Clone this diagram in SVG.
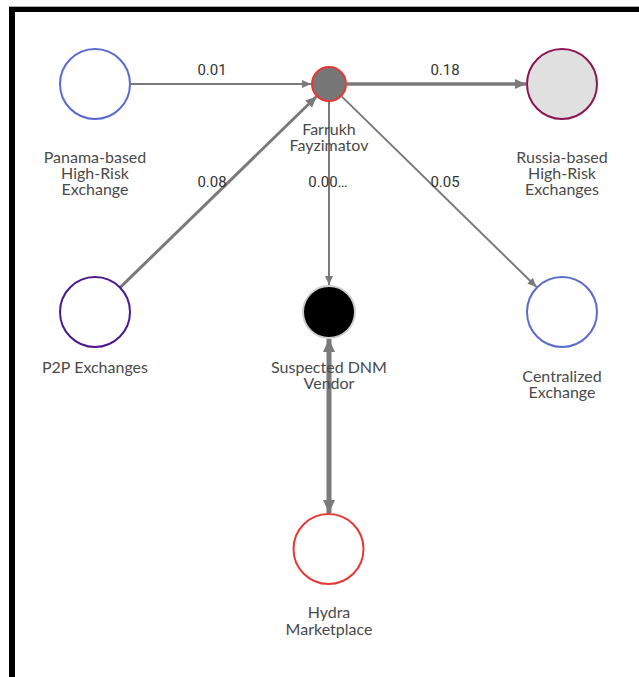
<svg xmlns="http://www.w3.org/2000/svg" width="639" height="677" viewBox="0 0 639 677">
<style>
.lbl{font-family:"Lato","Noto Sans",sans-serif;font-size:16px;fill:#4a4a4a;text-anchor:middle}
.elbl{font-family:"Roboto","Liberation Sans",sans-serif;font-size:15px;fill:#333;text-anchor:middle}
.edge{stroke:#7a7a7a;fill:none}
</style>
<defs>
<marker id="ahS" markerUnits="userSpaceOnUse" markerWidth="10" markerHeight="8" refX="9" refY="4" orient="auto"><path d="M0,0 L9,4 L0,8 Z" fill="#7a7a7a"/></marker>
<marker id="ahM" markerUnits="userSpaceOnUse" markerWidth="12" markerHeight="10" refX="11" refY="5" orient="auto"><path d="M0,0 L11,5 L0,10 Z" fill="#7a7a7a"/></marker>
<marker id="ahL" markerUnits="userSpaceOnUse" markerWidth="14" markerHeight="12" refX="13" refY="6" orient="auto-start-reverse"><path d="M0,0 L13,6 L0,12 Z" fill="#7a7a7a"/></marker>
</defs>
<rect x="0" y="0" width="639" height="677" fill="#fff"/>
<rect x="9" y="6" width="630" height="1" fill="#b0b0b0"/>
<rect x="9" y="7" width="630" height="5" fill="#000"/>
<rect x="9" y="7" width="6" height="670" fill="#000"/>
<g id="connectors">
<line class="edge" x1="131" y1="84" x2="311" y2="84" stroke-width="2" marker-end="url(#ahS)"/>
<line class="edge" x1="347" y1="84" x2="526" y2="84" stroke-width="3.5" marker-end="url(#ahM)"/>
<line class="edge" x1="120" y1="287.6" x2="316.5" y2="96.5" stroke-width="3" marker-end="url(#ahM)"/>
<line class="edge" x1="329" y1="102" x2="329" y2="285" stroke-width="2" marker-end="url(#ahS)"/>
<line class="edge" x1="341.9" y1="96.6" x2="536.5" y2="287" stroke-width="2" marker-end="url(#ahS)"/>
<line class="edge" x1="329" y1="339" x2="329" y2="513" stroke-width="5" marker-start="url(#ahL)" marker-end="url(#ahL)"/>
<text class="elbl" x="212" y="75">0.01</text>
<text class="elbl" x="445" y="75">0.18</text>
<text class="elbl" x="212" y="187">0.08</text>
<text class="elbl" x="328" y="187">0.00…</text>
<text class="elbl" x="445" y="187">0.05</text>
</g>
<g id="panama">
<circle cx="95" cy="84" r="35" fill="#fff" stroke="#5b6bcd" stroke-width="2"/>
<text class="lbl" x="95" y="163">Panama-based</text>
<text class="lbl" x="95" y="179">High-Risk</text>
<text class="lbl" x="95" y="195">Exchange</text>
</g>
<g id="farrukh">
<circle cx="329" cy="84" r="17" fill="#777" stroke="#e53935" stroke-width="2"/>
<text class="lbl" x="329" y="135">Farrukh</text>
<text class="lbl" x="329" y="151">Fayzimatov</text>
</g>
<g id="russia">
<circle cx="562" cy="84" r="35" fill="#e0e0e0" stroke="#8c1553" stroke-width="2"/>
<text class="lbl" x="562" y="163">Russia-based</text>
<text class="lbl" x="562" y="179">High-Risk</text>
<text class="lbl" x="562" y="195">Exchanges</text>
</g>
<g id="p2p">
<circle cx="95" cy="312" r="35" fill="#fff" stroke="#4a1a8c" stroke-width="2"/>
<text class="lbl" x="95" y="373">P2P Exchanges</text>
</g>
<g id="dnm">
<circle cx="329" cy="312" r="26" fill="#000" stroke="#cfcfcf" stroke-width="2"/>
<text class="lbl" x="329" y="373">Suspected DNM</text>
<text class="lbl" x="329" y="389">Vendor</text>
</g>
<g id="centralized">
<circle cx="562" cy="312" r="35" fill="#fff" stroke="#5b6bcd" stroke-width="2"/>
<text class="lbl" x="562" y="382">Centralized</text>
<text class="lbl" x="562" y="398">Exchange</text>
</g>
<g id="hydra">
<circle cx="328.5" cy="549" r="35" fill="#fff" stroke="#e53935" stroke-width="2"/>
<text class="lbl" x="329" y="618">Hydra</text>
<text class="lbl" x="329" y="635">Marketplace</text>
</g>
</svg>
